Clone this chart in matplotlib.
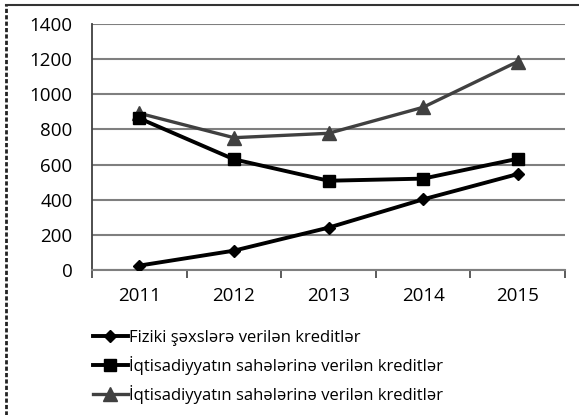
import numpy as np
import matplotlib.pyplot as plt
from matplotlib.lines import Line2D

plt.rcParams['font.family'] = ['Open Sans', 'DejaVu Sans']

years = ['2011', '2012', '2013', '2014', '2015']
fiziki = [25, 110, 241, 402, 546]
sahe_1 = [863, 630, 508, 520, 633]
sahe_2 = [892, 753, 778, 926, 1186]
labels = ['Fiziki şəxslərə verilən kreditlər',
          'İqtisadiyyatın sahələrinə verilən kreditlər',
          'İqtisadiyyatın sahələrinə verilən kreditlər']
yticks = [0, 200, 400, 600, 800, 1000, 1200, 1400]

fig = plt.figure(figsize=(5.79, 4.15), dpi=100)
ax = fig.add_axes([92/579, 1 - 270/415, 473/579, 246/415])

x = np.arange(len(years))
l1, = ax.plot(x, fiziki, color='black', lw=2.8, marker='D', ms=6.5, zorder=4)
l2, = ax.plot(x, sahe_1, color='black', lw=2.8, marker='s', ms=9, zorder=4)
l3, = ax.plot(x, sahe_2, color='#404040', lw=2.4, marker='^', ms=10, zorder=3)

ax.set_xlim(-0.5, len(years) - 0.5)
ax.set_ylim(0, 1400)
ax.set_yticks(yticks)
ax.set_yticklabels([str(v) for v in yticks], fontsize=13.5)
ax.yaxis.grid(True, color='#7f7f7f', lw=1.5)
ax.set_axisbelow(True)
ax.tick_params(axis='y', length=0, pad=14)

ax.set_xticks(x)
ax.set_xticklabels(years, fontsize=13.5)
ax.set_xticks(np.arange(-0.5, len(years)), minor=True)
ax.tick_params(axis='x', which='major', length=0, pad=12)
ax.tick_params(axis='x', which='minor', length=6, width=1.2, color='#404040', direction='out')

for s in ['top', 'right']:
    ax.spines[s].set_visible(False)
ax.spines['left'].set_color('#404040')
ax.spines['left'].set_linewidth(1.3)
ax.spines['bottom'].set_color('#7f7f7f')
ax.spines['bottom'].set_linewidth(1.5)

fig.legend([l1, l2, l3], labels, loc='upper left', bbox_to_anchor=(86/579, 1 - 323/415),
           frameon=False, fontsize=12, handlelength=2.1, handletextpad=0.1,
           labelspacing=0.6, borderaxespad=0)

# frame around the picture
fig.add_artist(Line2D([6/579, 1], [1 - 5/415, 1 - 5/415], color='#333333', lw=1.5))
fig.add_artist(Line2D([6/579, 6/579], [0, 1 - 5/415], color='#222222', lw=2, ls=(0, (1.5, 0.8))))

fig.savefig('out.png', dpi=100)
